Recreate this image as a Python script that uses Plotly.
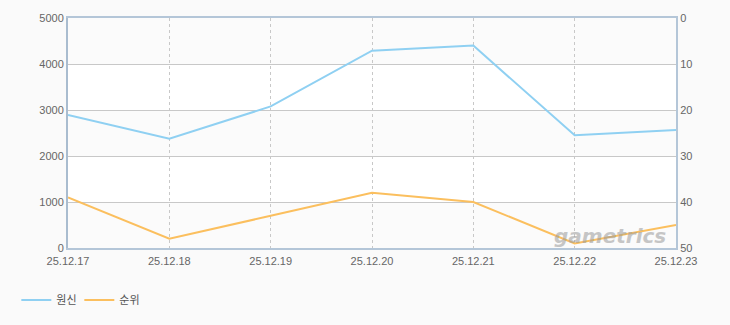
import plotly.graph_objects as go

dates = ["25.12.17", "25.12.18", "25.12.19", "25.12.20", "25.12.21", "25.12.22", "25.12.23"]
genshin = [2890, 2375, 3078, 4290, 4400, 2450, 2565]
rank = [39, 48, 43, 38, 40, 49, 45]

blue = "#8fd0f2"
orange = "#fbbf5e"
font_family = "Liberation Sans, Noto Sans CJK KR"

fig = go.Figure()
fig.add_trace(go.Scatter(x=dates, y=genshin, name="원신", mode="lines",
                         line=dict(color=blue, width=2), yaxis="y"))
fig.add_trace(go.Scatter(x=dates, y=rank, name="순위", mode="lines",
                         line=dict(color=orange, width=2), yaxis="y2"))

# alternating bands
for lo, hi in [(4000, 5000), (2000, 3000), (0, 1000)]:
    fig.add_shape(type="rect", xref="paper", yref="y", x0=0, x1=1, y0=lo, y1=hi,
                  fillcolor="#fbfbfb", line=dict(width=0), layer="below")

fig.add_annotation(x=5.35, y=255, xref="x", yref="y", text="<b><i>gametrics</i></b>",
                   showarrow=False, font=dict(size=20, color="#9a9a9a", family="DejaVu Sans"),
                   opacity=0.55)

fig.update_layout(
    width=730, height=325,
    margin=dict(l=68, r=54, t=16, b=77),
    paper_bgcolor="#fafafa",
    plot_bgcolor="#ffffff",
    font=dict(family=font_family, size=11, color="#666666"),
    showlegend=True,
    legend=dict(orientation="h", x=-0.085, y=0.077, yref="container",
                xanchor="left", yanchor="middle",
                bgcolor="rgba(0,0,0,0)", font=dict(size=11, color="#555555"),
                entrywidth=18, entrywidthmode="pixels", tracegroupgap=0),
    xaxis=dict(type="category", range=[0, 6], showgrid=True, gridcolor="#c8c8c8",
               griddash="3px,3px", gridwidth=1, showline=True, linecolor="#b4c6d8",
               linewidth=2, mirror=True, ticks="", tickfont=dict(size=11, color="#666666"),
               ticklabelstandoff=2, zeroline=False),
    yaxis=dict(range=[0, 5000], tickvals=[0, 1000, 2000, 3000, 4000, 5000],
               showgrid=True, gridcolor="#c8c8c8", gridwidth=1, showline=True,
               linecolor="#a9bccf", linewidth=2, ticks="", zeroline=False,
               tickfont=dict(size=11, color="#666666")),
    yaxis2=dict(range=[50, 0], overlaying="y", side="right",
                tickvals=[0, 10, 20, 30, 40, 50], showgrid=False, showline=True,
                linecolor="#b4c6d8", linewidth=2, ticks="", zeroline=False,
                tickfont=dict(size=11, color="#666666")),
)

fig.write_html("out.html")
